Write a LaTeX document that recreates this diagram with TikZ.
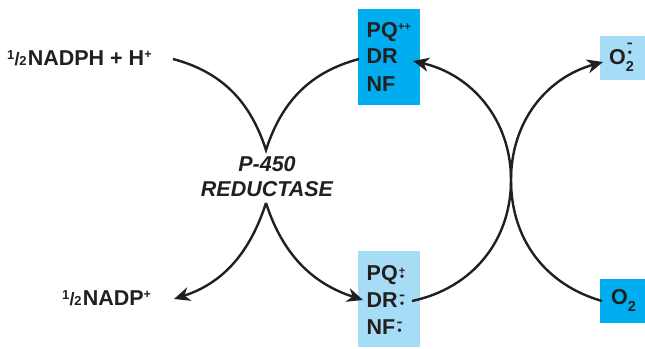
\documentclass[tikz,border=0pt]{standalone}
\usepackage{fontspec}
\usepackage{graphicx}
\setmainfont{Liberation Sans}
\usetikzlibrary{arrows.meta}

\definecolor{ink}{HTML}{231F20}
\definecolor{oxblue}{HTML}{00AEEF}
\definecolor{redblue}{HTML}{A7DCF6}

% one half written as a small fraction
\newcommand\halfpre{{\fontsize{13}{13}\selectfont\raisebox{6.8pt}{1}\kern0.01em{\fontsize{18}{18}\selectfont/}\kern-0.02em2}\kern0.06em}
% small raised plus
\newcommand\upplus{\smash{\raisebox{7.8pt}{\fontsize{12.5}{12.5}\selectfont+}}}
% short bold minus used in radical anions
\newcommand\minussign{\scalebox{1.5}[1.15]{\fontsize{12}{12}\selectfont -}}
% radical mark: a sign stacked over a dot
\newcommand\radmark[2]{\hspace{0.05em}\makebox[0pt][l]{\makebox[6.5pt][c]{\smash{\raisebox{#2}{#1}}}}\makebox[6.5pt][c]{\fontsize{11.5}{11.5}\selectfont\textbullet}}
\newcommand\subtwo{\raisebox{-7pt}{\fontsize{14.5}{14.5}\selectfont 2}}
% superoxide anion: minus over dot over subscript two
\newcommand\superox{O\makebox[0pt][l]{\makebox[8pt][c]{\smash{\raisebox{17pt}{\minussign}}}}\makebox[0pt][l]{\makebox[8pt][c]{\smash{\raisebox{8.5pt}{\fontsize{11.5}{11.5}\selectfont\textbullet}}}}\subtwo}

\tikzset{
  lbl/.style={inner sep=0pt, text=ink, text depth=1pt, font=\fontsize{21.5}{24}\selectfont\bfseries},
  enz/.style={lbl, font=\fontsize{21.5}{24}\selectfont\bfseries\itshape},
  tallbox/.style={inner sep=0pt, minimum width=62pt, minimum height=96pt},
  smallbox/.style={inner sep=0pt, minimum width=45pt, minimum height=44pt},
  link/.style={draw=ink, line width=2.4pt},
  arr/.style={link, -{Stealth[length=16pt,width=14pt,inset=5pt]}}
}

\begin{document}
\begin{tikzpicture}[x=1pt,y=1pt]
\useasboundingbox (0,0) rectangle (645,348);

% coloured boxes
\node[tallbox, fill=oxblue] (oxbox) at (389,291) {};
\node[tallbox, fill=redblue] (redbox) at (389,49) {};
\node[smallbox, fill=redblue] (supbox) at (622.5,290) {};
\node[smallbox, fill=oxblue] (o2box) at (622.5,47) {};

% oxidised species
\node[lbl, anchor=base west] (pqox) at (366.5,310) {PQ\smash{\raisebox{7.5pt}{\fontsize{11.5}{11.5}\selectfont++}}};
\node[lbl, anchor=base west] (drox) at (366.5,284) {DR};
\node[lbl, anchor=base west] (nfox) at (366.5,256) {NF};

% radicals
\node[lbl, anchor=base west] (pqred) at (366.5,67) {PQ\radmark{\fontsize{11}{11}\selectfont+}{6.6pt}};
\node[lbl, anchor=base west] (drred) at (366.5,40) {DR\radmark{\minussign}{8.2pt}};
\node[lbl, anchor=base west] (nfred) at (366.5,13) {NF\radmark{\minussign}{8.2pt}};

% oxygen and superoxide
\node[lbl, anchor=base west] (superoxide) at (609,283) {\superox};
\node[lbl, anchor=base west] (oxygen) at (611,43) {O\subtwo};

% cofactor and enzyme
\node[lbl, anchor=base west] (nadph) at (7,282) {\halfpre NADPH + H\upplus};
\node[lbl, anchor=base west] (nadp) at (62,42) {\halfpre NADP\upplus};
\node[enz, anchor=base] (p450) at (267,176) {P-450};
\node[enz, anchor=base] (reductase) at (267,151) {REDUCTASE};

% connector end points
\coordinate (nadphin) at (173,289);
\coordinate (cusptop) at (266,198);
\coordinate (oxin) at (359,289);
\coordinate (cuspbot) at (266,145);
\coordinate (nadpout) at (174,49);
\coordinate (redin) at (363,48);
\coordinate (redout) at (412,47);
\coordinate (oxback) at (413,287);
\coordinate (kiss) at (511,168);
\coordinate (o2out) at (602,47);
\coordinate (supin) at (603,286);

% reductase branch
\draw[link] (nadphin) to[out=-15,in=108] (cusptop) to[out=72,in=195] (oxin);
\draw[arr] (cuspbot) to[out=-108,in=18] (nadpout);
\draw[arr] (cuspbot) to[out=-72,in=162] (redin);

% redox cycle and oxygen branch
\draw[arr] (redout) to[out=12,in=-90] (kiss) to[out=90,in=-13] (oxback);
\draw[arr] (o2out) to[out=164,in=-90] (kiss) to[out=90,in=195.6] (supin);
\end{tikzpicture}
\end{document}
